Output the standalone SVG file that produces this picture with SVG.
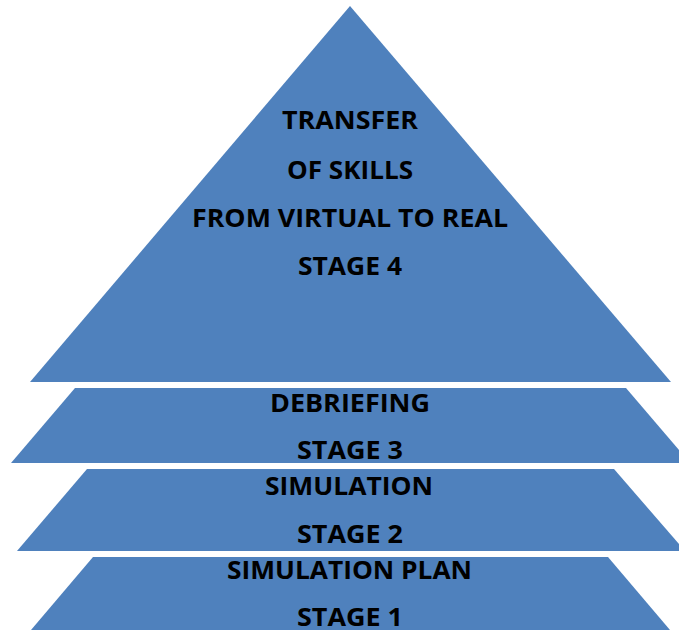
<svg xmlns="http://www.w3.org/2000/svg" width="679" height="630" viewBox="0 0 679 630">
<style>
.s{fill:#4F81BD;}
.t{font-family:"Open Sans","Liberation Sans",Arial,sans-serif;font-weight:bold;font-size:25px;fill:#000;text-anchor:middle;}
</style>
<rect width="679" height="630" fill="#fff"/>
<g id="stage4">
<polygon class="s" points="350,6 671,382 30,382"/>
<text class="t" x="350" y="129" textLength="136" lengthAdjust="spacingAndGlyphs">TRANSFER</text>
<text class="t" x="350" y="179" textLength="126" lengthAdjust="spacingAndGlyphs">OF SKILLS</text>
<text class="t" x="350" y="227" textLength="316" lengthAdjust="spacingAndGlyphs">FROM VIRTUAL TO REAL</text>
<text class="t" x="350" y="275" textLength="104" lengthAdjust="spacingAndGlyphs">STAGE 4</text>
</g>
<g id="stage3">
<polygon class="s" points="75,388 626,388 690,463 11,463"/>
<text class="t" x="350" y="412" textLength="160" lengthAdjust="spacingAndGlyphs">DEBRIEFING</text>
<text class="t" x="350" y="459" textLength="106" lengthAdjust="spacingAndGlyphs">STAGE 3</text>
</g>
<g id="stage2">
<polygon class="s" points="87,469 614,469 685,551 17,551"/>
<text class="t" x="349" y="495" textLength="168" lengthAdjust="spacingAndGlyphs">SIMULATION</text>
<text class="t" x="350" y="543" textLength="106" lengthAdjust="spacingAndGlyphs">STAGE 2</text>
</g>
<g id="stage1">
<polygon class="s" points="93,557 608,557 670,630 31,630"/>
<text class="t" x="349.5" y="579" textLength="245" lengthAdjust="spacingAndGlyphs">SIMULATION PLAN</text>
<text class="t" x="350" y="626" textLength="106" lengthAdjust="spacingAndGlyphs">STAGE 1</text>
</g>
<g id="connectors"/>
</svg>
